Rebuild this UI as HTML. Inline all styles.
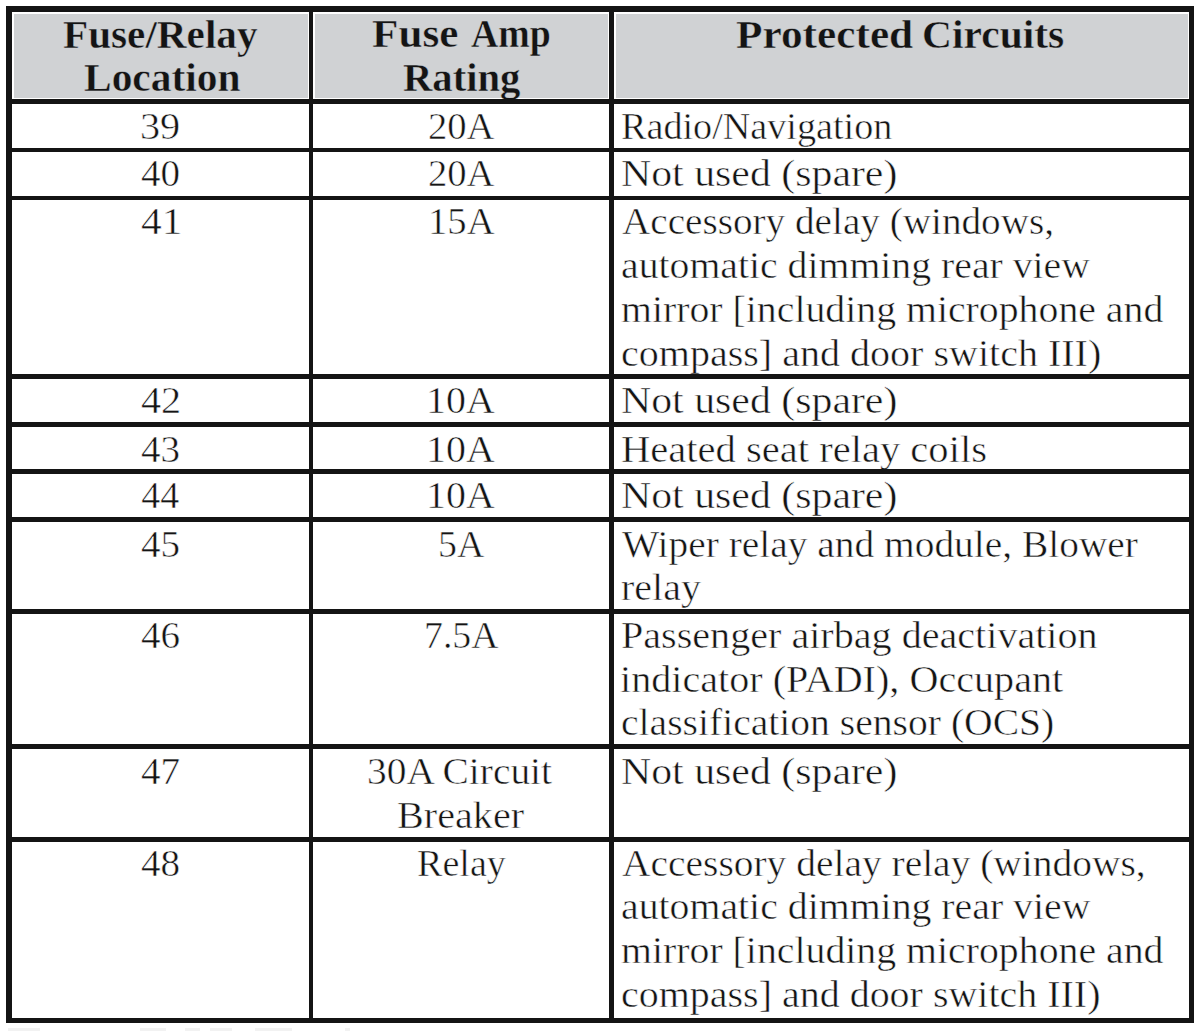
<!DOCTYPE html>
<html><head><meta charset="utf-8"><style>
html,body{margin:0;padding:0;background:#fff;}
body{width:1200px;height:1031px;position:relative;overflow:hidden;}
.ln{position:absolute;background:#141414;}
.t,.tb{position:absolute;font-family:"Liberation Serif",serif;color:#141414;white-space:nowrap;transform-origin:0 0;}
.t{-webkit-text-stroke:0.5px #fff;}
.tb{font-weight:bold;-webkit-text-stroke:0.4px #d0d2d4;}
</style></head><body>
<div style="position:absolute;left:14px;top:14px;width:294px;height:84px;background:#d0d2d4"></div>
<div style="position:absolute;left:315px;top:14px;width:293px;height:84px;background:#d0d2d4"></div>
<div style="position:absolute;left:616px;top:14px;width:572px;height:84px;background:#d0d2d4"></div>
<div class="tb" style="left:63.33px;top:15.04px;font-size:39px;line-height:39px;transform:scaleX(1.0566)">Fuse/Relay</div>
<div class="tb" style="left:83.53px;top:58.14px;font-size:39px;line-height:39px;transform:scaleX(1.0621)">Location</div>
<div class="tb" style="left:371.95px;top:14.34px;font-size:39px;line-height:39px;transform:scaleX(1.1079)">Fuse</div>
<div class="tb" style="left:470.61px;top:14.34px;font-size:39px;line-height:39px;transform:scaleX(0.9687)">Amp</div>
<div class="tb" style="left:402.57px;top:57.74px;font-size:39px;line-height:39px;transform:scaleX(1.0420)">Rating</div>
<div class="tb" style="left:735.94px;top:15.04px;font-size:39px;line-height:39px;transform:scaleX(1.1108)">Protected</div>
<div class="tb" style="left:921.87px;top:15.04px;font-size:39px;line-height:39px;transform:scaleX(1.0649)">Circuits</div>
<div class="t" style="left:140.06px;top:106.87px;font-size:38px;line-height:38px;transform:scaleX(1.0588)">39</div>
<div class="t" style="left:427.97px;top:106.87px;font-size:38px;line-height:38px;transform:scaleX(1.0161)">20A</div>
<div class="t" style="left:621.39px;top:106.87px;font-size:38px;line-height:38px;transform:scaleX(1.0041)">Radio/Navigation</div>
<div class="t" style="left:141.16px;top:154.18px;font-size:38px;line-height:38px;transform:scaleX(1.0286)">40</div>
<div class="t" style="left:427.97px;top:154.18px;font-size:38px;line-height:38px;transform:scaleX(1.0161)">20A</div>
<div class="t" style="left:621.22px;top:154.18px;font-size:38px;line-height:38px;transform:scaleX(1.1004)">Not used (spare)</div>
<div class="t" style="left:141.07px;top:201.88px;font-size:38px;line-height:38px;transform:scaleX(1.0909)">41</div>
<div class="t" style="left:427.93px;top:201.88px;font-size:38px;line-height:38px;transform:scaleX(1.0167)">15A</div>
<div class="t" style="left:622.38px;top:201.88px;font-size:38px;line-height:38px;transform:scaleX(1.0312)">Accessory delay (windows,</div>
<div class="t" style="left:621.32px;top:245.77px;font-size:38px;line-height:38px;transform:scaleX(1.0456)">automatic dimming rear view</div>
<div class="t" style="left:621.32px;top:289.68px;font-size:38px;line-height:38px;transform:scaleX(1.0466)">mirror [including microphone and</div>
<div class="t" style="left:621.30px;top:333.57px;font-size:38px;line-height:38px;transform:scaleX(1.0535)">compass] and door switch III)</div>
<div class="t" style="left:141.12px;top:381.48px;font-size:38px;line-height:38px;transform:scaleX(1.0588)">42</div>
<div class="t" style="left:425.80px;top:381.48px;font-size:38px;line-height:38px;transform:scaleX(1.0500)">10A</div>
<div class="t" style="left:621.22px;top:381.48px;font-size:38px;line-height:38px;transform:scaleX(1.1004)">Not used (spare)</div>
<div class="t" style="left:141.16px;top:429.57px;font-size:38px;line-height:38px;transform:scaleX(1.0286)">43</div>
<div class="t" style="left:425.80px;top:429.57px;font-size:38px;line-height:38px;transform:scaleX(1.0500)">10A</div>
<div class="t" style="left:621.28px;top:429.57px;font-size:38px;line-height:38px;transform:scaleX(1.0673)">Heated seat relay coils</div>
<div class="t" style="left:141.20px;top:476.48px;font-size:38px;line-height:38px;transform:scaleX(1.0000)">44</div>
<div class="t" style="left:425.80px;top:476.48px;font-size:38px;line-height:38px;transform:scaleX(1.0500)">10A</div>
<div class="t" style="left:621.22px;top:476.48px;font-size:38px;line-height:38px;transform:scaleX(1.1004)">Not used (spare)</div>
<div class="t" style="left:141.16px;top:524.57px;font-size:38px;line-height:38px;transform:scaleX(1.0286)">45</div>
<div class="t" style="left:438.41px;top:524.57px;font-size:38px;line-height:38px;transform:scaleX(0.9953)">5A</div>
<div class="t" style="left:622.37px;top:524.57px;font-size:38px;line-height:38px;transform:scaleX(1.0369)">Wiper relay and module, Blower</div>
<div class="t" style="left:621.31px;top:568.47px;font-size:38px;line-height:38px;transform:scaleX(1.0521)">relay</div>
<div class="t" style="left:141.16px;top:615.67px;font-size:38px;line-height:38px;transform:scaleX(1.0286)">46</div>
<div class="t" style="left:424.22px;top:615.67px;font-size:38px;line-height:38px;transform:scaleX(0.9944)">7.5A</div>
<div class="t" style="left:621.30px;top:615.67px;font-size:38px;line-height:38px;transform:scaleX(1.0554)">Passenger airbag deactivation</div>
<div class="t" style="left:620.24px;top:659.57px;font-size:38px;line-height:38px;transform:scaleX(1.0560)">indicator (PADI), Occupant</div>
<div class="t" style="left:621.32px;top:703.47px;font-size:38px;line-height:38px;transform:scaleX(1.0420)">classification sensor (OCS)</div>
<div class="t" style="left:141.16px;top:752.07px;font-size:38px;line-height:38px;transform:scaleX(1.0286)">47</div>
<div class="t" style="left:367.30px;top:752.07px;font-size:38px;line-height:38px;transform:scaleX(1.0371)">30A Circuit</div>
<div class="t" style="left:397.12px;top:795.97px;font-size:38px;line-height:38px;transform:scaleX(1.0568)">Breaker</div>
<div class="t" style="left:621.22px;top:752.07px;font-size:38px;line-height:38px;transform:scaleX(1.1004)">Not used (spare)</div>
<div class="t" style="left:141.16px;top:843.57px;font-size:38px;line-height:38px;transform:scaleX(1.0286)">48</div>
<div class="t" style="left:416.60px;top:843.57px;font-size:38px;line-height:38px;transform:scaleX(1.0023)">Relay</div>
<div class="t" style="left:622.37px;top:843.57px;font-size:38px;line-height:38px;transform:scaleX(1.0383)">Accessory delay relay (windows,</div>
<div class="t" style="left:621.32px;top:887.47px;font-size:38px;line-height:38px;transform:scaleX(1.0467)">automatic dimming rear view</div>
<div class="t" style="left:621.32px;top:931.37px;font-size:38px;line-height:38px;transform:scaleX(1.0470)">mirror [including microphone and</div>
<div class="t" style="left:621.31px;top:975.27px;font-size:38px;line-height:38px;transform:scaleX(1.0518)">compass] and door switch III)</div>
<div class="ln" style="left:6px;top:6px;width:1188px;height:6px"></div>
<div class="ln" style="left:6px;top:99px;width:1188px;height:5px"></div>
<div class="ln" style="left:6px;top:148px;width:1188px;height:4px"></div>
<div class="ln" style="left:6px;top:196px;width:1188px;height:4px"></div>
<div class="ln" style="left:6px;top:374px;width:1188px;height:5px"></div>
<div class="ln" style="left:6px;top:422px;width:1188px;height:5px"></div>
<div class="ln" style="left:6px;top:469px;width:1188px;height:5px"></div>
<div class="ln" style="left:6px;top:517px;width:1188px;height:5px"></div>
<div class="ln" style="left:6px;top:609px;width:1188px;height:5px"></div>
<div class="ln" style="left:6px;top:744px;width:1188px;height:5px"></div>
<div class="ln" style="left:6px;top:837px;width:1188px;height:5px"></div>
<div class="ln" style="left:6px;top:1018px;width:1188px;height:5px"></div>
<div class="ln" style="left:6px;top:6px;width:6px;height:1017px"></div>
<div class="ln" style="left:309px;top:6px;width:4px;height:1017px"></div>
<div class="ln" style="left:609px;top:6px;width:5px;height:1017px"></div>
<div class="ln" style="left:1189px;top:6px;width:5px;height:1017px"></div>
<div style="position:absolute;left:8px;top:1028px;width:32px;height:3px;background:#f2f2f2"></div>
<div style="position:absolute;left:140px;top:1028px;width:26px;height:3px;background:#f2f2f2"></div>
<div style="position:absolute;left:185px;top:1028px;width:15px;height:3px;background:#f2f2f2"></div>
<div style="position:absolute;left:210px;top:1028px;width:22px;height:3px;background:#f2f2f2"></div>
<div style="position:absolute;left:255px;top:1028px;width:37px;height:3px;background:#f2f2f2"></div>
<div style="position:absolute;left:345px;top:1028px;width:5px;height:3px;background:#f2f2f2"></div>
</body></html>
